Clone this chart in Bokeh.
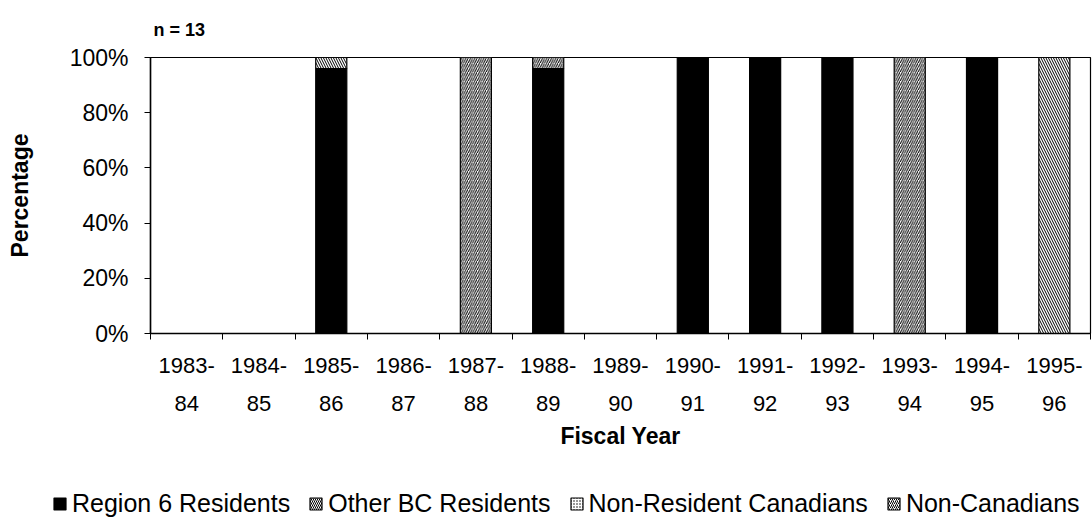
from bokeh.plotting import figure
from bokeh.layouts import column
from bokeh.models import (FixedTicker, NumeralTickFormatter, Legend, LegendItem, Range1d,
                          ColumnDataSource)
from bokeh.embed import file_html
from bokeh.resources import INLINE

# ---- data ----
years = ["1983-84", "1984-85", "1985-86", "1986-87", "1987-88", "1988-89", "1989-90",
         "1990-91", "1991-92", "1992-93", "1993-94", "1994-95", "1995-96"]
tick_labels = ["1983-\n84", "1984-\n85", "1985-\n86", "1986-\n87", "1987-\n88", "1988-\n89",
               "1989-\n90", "1990-\n91", "1991-\n92", "1992-\n93", "1993-\n94", "1994-\n95",
               "1995-\n96"]
region6 = [0, 0, 0.96, 0, 0, 0.96, 0, 1.0, 1.0, 1.0, 0, 1.0, 0]
other_bc = [0, 0, 0.04, 0, 0, 0, 0, 0, 0, 0, 0, 0, 1.0]
non_res = [0, 0, 0, 0, 0, 0, 0, 0, 0, 0, 0, 0, 0]
non_can = [0, 0, 0, 0, 1.0, 0.04, 0, 0, 0, 0, 1.0, 0, 0]
series = ["region6", "other_bc", "non_res", "non_can"]
series_labels = ["Region 6 Residents", "Other BC Residents", "Non-Resident Canadians", "Non-Canadians"]
n_label = "n = 13"

FILLS = ["black", "white", "white", "white"]
HATCHES = [" ", "\\", ".", "/"]
HSCALES = [6, 5, 4, 4.5]

xpos = [i + 0.5 for i in range(len(years))]
source = ColumnDataSource(dict(x=xpos, region6=region6, other_bc=other_bc,
                               non_res=non_res, non_can=non_can))

FONT = "Liberation Sans"

p = figure(width=1092, height=452, output_backend="svg", toolbar_location=None,
           x_range=Range1d(0, len(years)), y_range=Range1d(0, 1.0),
           title=n_label, min_border_left=150, min_border_right=2,
           min_border_top=57, min_border_bottom=119)
p.background_fill_color = "white"
p.border_fill_color = "white"
p.outline_line_color = "black"
p.outline_line_width = 1.2
p.grid.visible = False

p.title.text_font = FONT
p.title.text_font_size = "18px"
p.title.text_font_style = "bold"
p.title.text_color = "black"
p.title.align = "left"
p.title.offset = 3
p.title.standoff = 35

renderers = p.vbar_stack(
    series, x="x", width=0.43, source=source,
    fill_color=FILLS, line_color="black", line_width=1.2,
    hatch_pattern=HATCHES, hatch_color="black", hatch_scale=HSCALES, hatch_weight=1.0,
)

# x axis: labels centred in categories, tick marks on boundaries
xa = p.xaxis[0]
xa.ticker = FixedTicker(ticks=xpos, minor_ticks=list(range(len(years) + 1)))
xa.major_label_overrides = {x: lab for x, lab in zip(xpos, tick_labels)}
xa.major_tick_line_color = None
xa.major_tick_out = 6
xa.minor_tick_line_color = "black"
xa.minor_tick_in = 0
xa.minor_tick_out = 6
xa.axis_line_color = "black"
xa.axis_line_width = 1.5
xa.major_label_text_font = FONT
xa.major_label_text_font_size = "22px"
xa.major_label_text_color = "black"
xa.major_label_standoff = 13
xa.major_label_text_line_height = 1.55
xa.axis_label = "Fiscal Year"
xa.axis_label_text_font = FONT
xa.axis_label_text_font_size = "23px"
xa.axis_label_text_font_style = "bold"
xa.axis_label_text_color = "black"
xa.axis_label_standoff = 4

ya = p.yaxis[0]
ya.ticker = FixedTicker(ticks=[0, 0.2, 0.4, 0.6, 0.8, 1.0], minor_ticks=[])
ya.formatter = NumeralTickFormatter(format="0%")
ya.major_tick_in = 0
ya.major_tick_out = 6
ya.minor_tick_line_color = None
ya.axis_line_color = "black"
ya.axis_line_width = 1.5
ya.major_label_text_font = FONT
ya.major_label_text_font_size = "23px"
ya.major_label_text_color = "black"
ya.major_label_standoff = 16
ya.axis_label = "Percentage"
ya.axis_label_text_font = FONT
ya.axis_label_text_font_size = "23px"
ya.axis_label_text_font_style = "bold"
ya.axis_label_text_color = "black"
ya.axis_label_standoff = 34

# ---- legend strip (separate figure below the chart; its bars lie outside its view) ----
lg = figure(width=1092, height=69, output_backend="svg", toolbar_location=None,
            x_range=Range1d(0, len(years)), y_range=Range1d(5, 6),
            x_axis_location=None, y_axis_location=None,
            min_border_left=0, min_border_right=0, min_border_top=0, min_border_bottom=0)
try:
    lg.frame_align = False
    p.frame_align = False
except Exception:
    pass
lg.grid.visible = False
lg.outline_line_color = None
lg.background_fill_color = "white"
lg.border_fill_color = "white"
proxies = lg.vbar_stack(
    series, x="x", width=0.43, source=source,
    fill_color=FILLS, line_color="black", line_width=1.2,
    hatch_pattern=HATCHES, hatch_color="black", hatch_scale=[6, 4, 3, 4], hatch_weight=1.0,
)
legend = Legend(items=[LegendItem(label=lab, renderers=[r]) for lab, r in zip(series_labels, proxies)],
                orientation="horizontal", location=(52, 3),
                glyph_width=15, glyph_height=15, label_standoff=5, spacing=18,
                label_text_font=FONT, label_text_font_size="25px",
                label_text_color="black",
                border_line_color=None, background_fill_alpha=0,
                padding=0, margin=0)
lg.add_layout(legend, "center")

layout = column(p, lg, spacing=0)
open("out.html", "w").write(file_html(layout, INLINE))
